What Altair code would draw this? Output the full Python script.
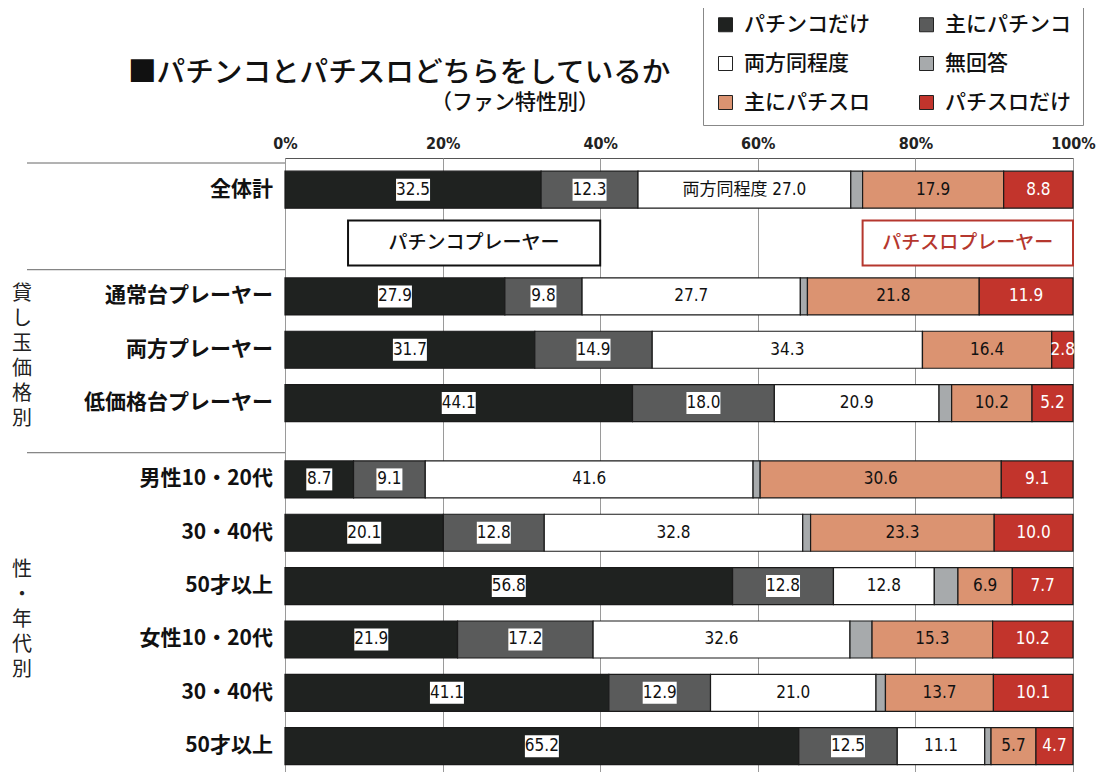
import altair as alt
import pandas as pd

# ---------------- data ----------------
TITLE = "■パチンコとパチスロどちらをしているか"
SUBTITLE = "（ファン特性別）"

CATEGORIES = ["パチンコだけ", "主にパチンコ", "両方同程度", "無回答", "主にパチスロ", "パチスロだけ"]
COLORS = ["#1f2220", "#5a5b5b", "#ffffff", "#a7aaac", "#db9371", "#c2342c"]

GROUP_NAMES = ["", "貸し玉価格別", "性・年代別"]
GROUP_ROWS = [
    ["全体計"],
    ["通常台プレーヤー", "両方プレーヤー", "低価格台プレーヤー"],
    ["男性10・20代", "30・40代", "50才以上", "女性10・20代", "30・40代", "50才以上"],
]

PACHINKO_ONLY   = [32.5, 27.9, 31.7, 44.1, 8.7, 20.1, 56.8, 21.9, 41.1, 65.2]
MAINLY_PACHINKO = [12.3, 9.8, 14.9, 18.0, 9.1, 12.8, 12.8, 17.2, 12.9, 12.5]
BOTH_EQUAL      = [27.0, 27.7, 34.3, 20.9, 41.6, 32.8, 12.8, 32.6, 21.0, 11.1]
NO_ANSWER       = [1.5, 0.9, 0.0, 1.6, 0.9, 1.0, 3.0, 2.8, 1.2, 0.8]
MAINLY_SLOT     = [17.9, 21.8, 16.4, 10.2, 30.6, 23.3, 6.9, 15.3, 13.7, 5.7]
SLOT_ONLY       = [8.8, 11.9, 2.8, 5.2, 9.1, 10.0, 7.7, 10.2, 10.1, 4.7]

TICKS = [0, 20, 40, 60, 80, 100]

ANNOT_LABELS = ["パチンコプレーヤー", "パチスロプレーヤー"]
ANNOT_START = [8.0, 73.3]
ANNOT_END = [40.0, 100.0]
ANNOT_COLORS = ["#111111", "#b5372e"]

# ---------------- layout constants ----------------
GROUP_GAP = [0, 2, 1.43]   # row units before the first row of each group
JP = "Noto Sans CJK JP"
NUM = "Liberation Sans Narrow, DejaVu Sans Condensed, Noto Sans CJK JP, sans-serif"
LEGEND_COLS = 2
VLINE = 25
VFONT = 20

# ---------------- build tables ----------------
SERIES = [PACHINKO_ONLY, MAINLY_PACHINKO, BOTH_EQUAL, NO_ANSWER, MAINLY_SLOT, SLOT_ONLY]

positions, names, group_first = [], [], []
p = None
for g, rows in enumerate(GROUP_ROWS):
    for k, n in enumerate(rows):
        if p is None:
            p = 0.0
        elif k == 0:
            p += GROUP_GAP[g]
        else:
            p += 1
        if k == 0:
            group_first.append(p)
        positions.append(p)
        names.append(n)

recs = []
for i, (n, pos) in enumerate(zip(names, positions)):
    for c, (cat, vals) in enumerate(zip(CATEGORIES, SERIES)):
        v = vals[i]
        lab = f"{v:.1f}"
        if i == 0 and cat == "両方同程度":
            lab = "両方同程度 " + lab
        recs.append({"row": i, "name": n, "pos": pos, "cat": cat, "order": c,
                     "value": v, "label": lab})
df = pd.DataFrame(recs)
rows_df = pd.DataFrame({"name": names, "pos": positions})
sep_df = pd.DataFrame({"sep": [f - 0.5 for f in group_first]})

# legend: entries read row by row (legend grid fills column by column)
nrows_leg = len(CATEGORIES) // LEGEND_COLS
leg_idx = [r * LEGEND_COLS + c for c in range(LEGEND_COLS) for r in range(nrows_leg)]
LEG_DOMAIN = [CATEGORIES[i] for i in leg_idx]
LEG_RANGE = [COLORS[i] for i in leg_idx]

start = 0
grp_recs = []
for g, rows in enumerate(GROUP_ROWS):
    ps = positions[start:start + len(rows)]
    start += len(rows)
    if GROUP_NAMES[g]:
        grp_recs.append({"v": "\n".join(list(GROUP_NAMES[g])), "gpos": sum(ps) / len(ps),
                         "n": len(GROUP_NAMES[g])})

ann_pos = (positions[0] + positions[1]) / 2
ann_df = pd.DataFrame({"label": ANNOT_LABELS, "start": ANNOT_START, "end": ANNOT_END,
                       "col": ANNOT_COLORS, "apos": [ann_pos] * len(ANNOT_LABELS)})
ann_df["amid"] = (ann_df["start"] + ann_df["end"]) / 2

# ---------------- scales ----------------
last = positions[-1]
xscale = alt.Scale(domain=[0, 100], nice=False, zero=False)
yscale = alt.Scale(domain=[-0.5, last + 0.39], reverse=True, nice=False, zero=False)

xaxis = alt.Axis(orient="top", values=TICKS, labelExpr="datum.value + '%'", grid=True,
                 gridColor="#9a9a9a", gridWidth=1, ticks=False, domain=False, title=None,
                 labelFont=NUM, labelFontSize=16, labelFontWeight="bold", labelColor="#222",
                 labelPadding=7, labelFlush=False)


def X(field):
    return alt.X(field, scale=xscale, axis=xaxis, title=None)


def Y(field):
    return alt.Y(field, scale=yscale, axis=None)


base = alt.Chart(df).transform_stack(
    stack="value", groupby=["row"], as_=["x0", "x1"],
    sort=[alt.SortField("order", order="ascending")]
).transform_calculate(mid="(datum.x0 + datum.x1) / 2")

bars = base.mark_bar(size=37, stroke="#1a1a1a", strokeWidth=1.2).encode(
    x=X("x0:Q"),
    x2="x1:Q",
    y=Y("pos:Q"),
    color=alt.Color("cat:N",
                    scale=alt.Scale(domain=LEG_DOMAIN, range=LEG_RANGE),
                    legend=alt.Legend(title=None, orient="none", legendX=418, legendY=-156,
                                      columns=LEGEND_COLS, symbolType="square", symbolSize=196,
                                      symbolStrokeColor="#222", symbolStrokeWidth=1,
                                      labelFont=JP, labelFontSize=21, labelFontWeight=500,
                                      labelColor="#111", columnPadding=46, rowPadding=17,
                                      padding=12, strokeColor="#888", fillColor="white",
                                      labelLimit=300, labelOffset=8)),
    tooltip=["name:N", "cat:N", "value:Q"],
)

boxes = base.transform_filter(
    alt.FieldOneOfPredicate(field="cat", oneOf=CATEGORIES[:2])
).transform_calculate(
    w="length(datum.label) * 4 + 1"
).transform_calculate(
    shp="'M' + (-datum.w) + ',-11L' + datum.w + ',-11L' + datum.w + ',11L' + (-datum.w) + ',11Z'"
).mark_point(filled=True, fill="white", opacity=1, size=4, strokeWidth=0).encode(
    x=X("mid:Q"),
    y=Y("pos:Q"),
    shape=alt.Shape("shp:N", scale=None),
)

values = base.transform_filter(alt.datum.cat != "無回答").mark_text(
    font=NUM, fontSize=17, align="center", baseline="middle"
).encode(
    x=X("mid:Q"),
    y=Y("pos:Q"),
    text="label:N",
    color=alt.condition(alt.datum.cat == "パチスロだけ", alt.value("#ffffff"), alt.value("#111111")),
)

row_labels = alt.Chart(rows_df).mark_text(
    align="right", baseline="middle", font=JP, fontSize=21, fontWeight="bold", color="#111"
).encode(x=alt.value(-12), y=Y("pos:Q"), text="name:N")

seps = alt.Chart(sep_df).mark_rule(color="#666", strokeWidth=1).encode(
    x=alt.value(-258), x2=alt.value(0), y=Y("sep:Q")
)

group_layers = []
for rec in grp_recs:
    group_layers.append(
        alt.Chart(pd.DataFrame([rec])).mark_text(
            align="center", baseline="middle", font=JP, fontSize=VFONT, lineHeight=VLINE,
            lineBreak="\n", color="#222", dy=-(rec["n"] - 1) * VLINE / 2 + 7
        ).encode(x=alt.value(-263), y=Y("gpos:Q"), text="v:N")
    )

ann_boxes = alt.Chart(ann_df).mark_bar(size=45, fill="white", strokeWidth=2).encode(
    x=X("start:Q"),
    x2="end:Q",
    y=Y("apos:Q"),
    stroke=alt.Stroke("col:N", scale=None),
)
ann_text = alt.Chart(ann_df).mark_text(
    align="center", baseline="middle", font=JP, fontSize=19, fontWeight=500
).encode(
    x=X("amid:Q"),
    y=Y("apos:Q"),
    text="label:N",
    fill=alt.Fill("col:N", scale=None),
)

title = alt.Chart(pd.DataFrame({"t": [TITLE]})).mark_text(
    align="left", baseline="middle", font=JP, fontSize=28.6, fontWeight=500, color="#111"
).encode(x=alt.value(-157), y=alt.value(-85), text="t:N")
subtitle = alt.Chart(pd.DataFrame({"t": [SUBTITLE]})).mark_text(
    align="center", baseline="middle", font=JP, fontSize=21, fontWeight=500, color="#111"
).encode(x=alt.value(230), y=alt.value(-55), text="t:N")

chart = alt.layer(
    bars, ann_boxes, ann_text, boxes, values, row_labels, seps, *group_layers, title, subtitle
).properties(
    width=788, height=614,
    autosize=alt.AutoSizeParams(type="none"),
    padding={"left": 277, "top": 150, "right": 27, "bottom": 0},
).configure_view(stroke="#555", strokeWidth=1)

chart.save("out.html", embed_options={"renderer": "svg", "actions": False})
